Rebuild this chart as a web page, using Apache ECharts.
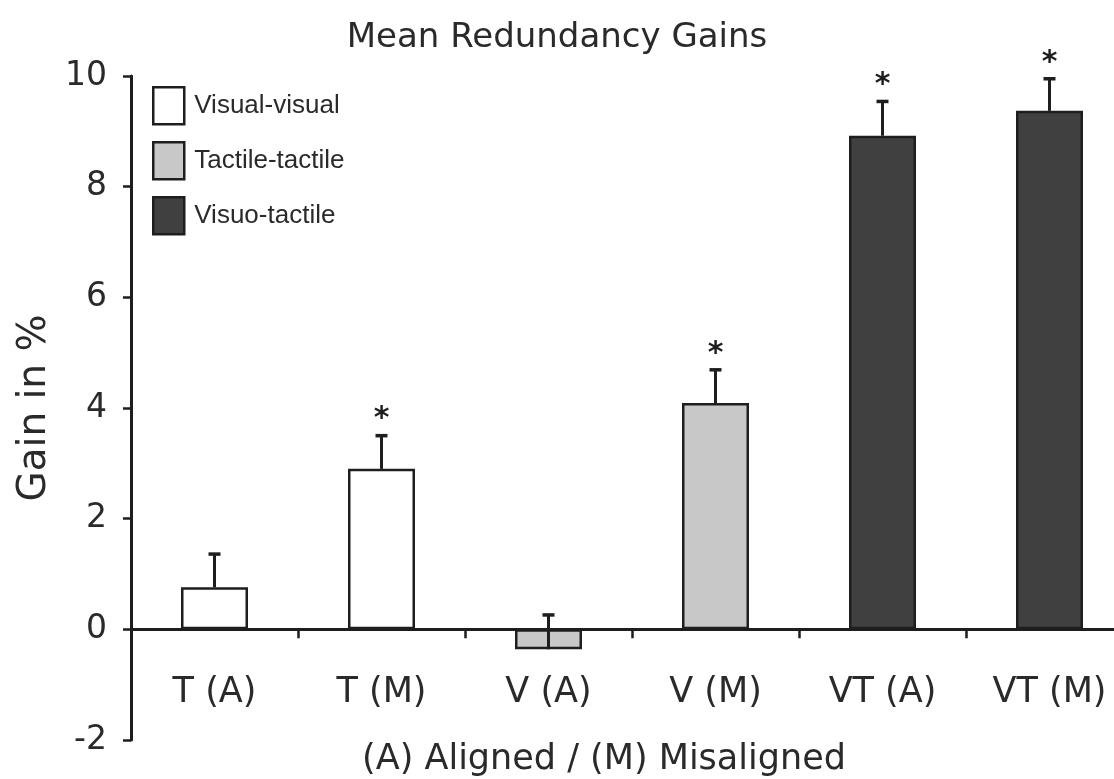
<!DOCTYPE html>
<html>
<head>
<meta charset="utf-8">
<title>Mean Redundancy Gains</title>
<script src="https://cdn.jsdelivr.net/npm/echarts@6/dist/echarts.min.js"></script>
<style>
  html, body { margin: 0; padding: 0; background: #ffffff; }
  #chart { width: 1114px; height: 779px; }
</style>
</head>
<body>
<div id="chart"></div>
<script>
// Conditions on the x axis
const categories = ['T (A)', 'T (M)', 'V (A)', 'V (M)', 'VT (A)', 'VT (M)'];
// Mean redundancy gain (%) per condition
const gains = [0.76, 2.90, -0.36, 4.09, 8.92, 9.37];
// Standard error of each mean (%)
const errors = [0.60, 0.60, 0.62, 0.60, 0.62, 0.58];
// Significant gain marker
const significant = [false, true, false, true, true, true];
// Modality group of each condition
const groupOf = ['Visual-visual', 'Visual-visual', 'Tactile-tactile', 'Tactile-tactile', 'Visuo-tactile', 'Visuo-tactile'];
const groups = ['Visual-visual', 'Tactile-tactile', 'Visuo-tactile'];
const groupColors = { 'Visual-visual': '#ffffff', 'Tactile-tactile': '#c8c8c8', 'Visuo-tactile': '#404040' };
// y axis range
const yMin = -2, yMax = 10, yStep = 2;

const INK = '#1e1e1e';
const FONT = 'DejaVu Sans';

const barSeries = groups.map(g => ({
  name: g,
  type: 'bar',
  barWidth: 67,
  barGap: '-100%',
  itemStyle: { color: groupColors[g], borderColor: INK, borderWidth: 2.5 },
  data: gains.map((v, i) => (groupOf[i] === g ? v : null)),
  z: 2
}));

const errorData = gains.map((v, i) => [i, v, v + errors[i], significant[i] ? 1 : 0]);

// Error bars (one-sided, upwards) with significance asterisks
const errorSeries = {
  type: 'custom',
  name: 'SEM',
  data: errorData,
  z: 5,
  silent: true,
  renderItem: function (params, api) {
    const idx = api.value(0);
    const base = api.coord([idx, api.value(1)]);
    const top = api.coord([idx, api.value(2)]);
    const capHalf = 6;
    const children = [
      { type: 'line', shape: { x1: base[0], y1: base[1], x2: top[0], y2: top[1] },
        style: { stroke: INK, lineWidth: 3 } },
      { type: 'line', shape: { x1: top[0] - capHalf, y1: top[1], x2: top[0] + capHalf, y2: top[1] },
        style: { stroke: INK, lineWidth: 3.5 } }
    ];
    if (api.value(3)) {
      children.push({
        type: 'text',
        style: { text: '*', x: top[0], y: top[1] - 1, align: 'center', verticalAlign: 'bottom',
                 fontFamily: FONT, fontSize: 30, fontWeight: 'bold', fill: INK }
      });
    }
    return { type: 'group', children: children };
  }
};

const chart = echarts.init(document.getElementById('chart'), null, { renderer: 'canvas' });
chart.setOption({
  backgroundColor: '#ffffff',
  animation: false,
  title: {
    text: 'Mean Redundancy Gains',
    left: 'center',
    top: 16,
    textStyle: { fontFamily: FONT, fontSize: 34, fontWeight: 'normal', color: '#2a2a2a' }
  },
  legend: {
    data: groups,
    orient: 'vertical',
    left: 147,
    top: 81,
    itemWidth: 31,
    itemHeight: 37,
    itemGap: 15.5,
    icon: 'rect',
    itemStyle: { borderColor: INK, borderWidth: 2.5 },
    textStyle: { fontFamily: 'Liberation Sans', fontSize: 26, color: '#2a2a2a', padding: [0, 0, 0, 5] }
  },
  grid: { left: 131, top: 76, width: 1002, height: 664, outerBoundsMode: 'none' },
  xAxis: {
    type: 'category',
    data: categories,
    name: '(A) Aligned / (M) Misaligned',
    nameLocation: 'middle',
    nameGap: 2,
    nameMoveOverlap: false,
    nameTextStyle: { fontFamily: FONT, fontSize: 35, color: '#2a2a2a', verticalAlign: 'top', padding: [0, 56, 0, 0] },
    axisLine: { onZero: true, lineStyle: { color: INK, width: 3 } },
    axisTick: { show: true, length: 9, lineStyle: { color: INK, width: 2.5 } },
    axisLabel: { margin: -65, fontFamily: FONT, fontSize: 35, color: '#2a2a2a' }
  },
  yAxis: {
    type: 'value',
    min: yMin,
    max: yMax,
    interval: yStep,
    name: 'Gain in %',
    nameLocation: 'middle',
    nameGap: 68,
    nameTextStyle: { fontFamily: FONT, fontSize: 39, color: '#2a2a2a' },
    axisLine: { show: true, onZero: false, lineStyle: { color: INK, width: 3 } },
    axisTick: { show: true, length: 8, lineStyle: { color: INK, width: 2.5 } },
    axisLabel: { margin: 24, fontFamily: FONT, fontSize: 33, color: '#2a2a2a' },
    splitLine: { show: false }
  },
  series: barSeries.concat([errorSeries])
});
</script>
</body>
</html>
